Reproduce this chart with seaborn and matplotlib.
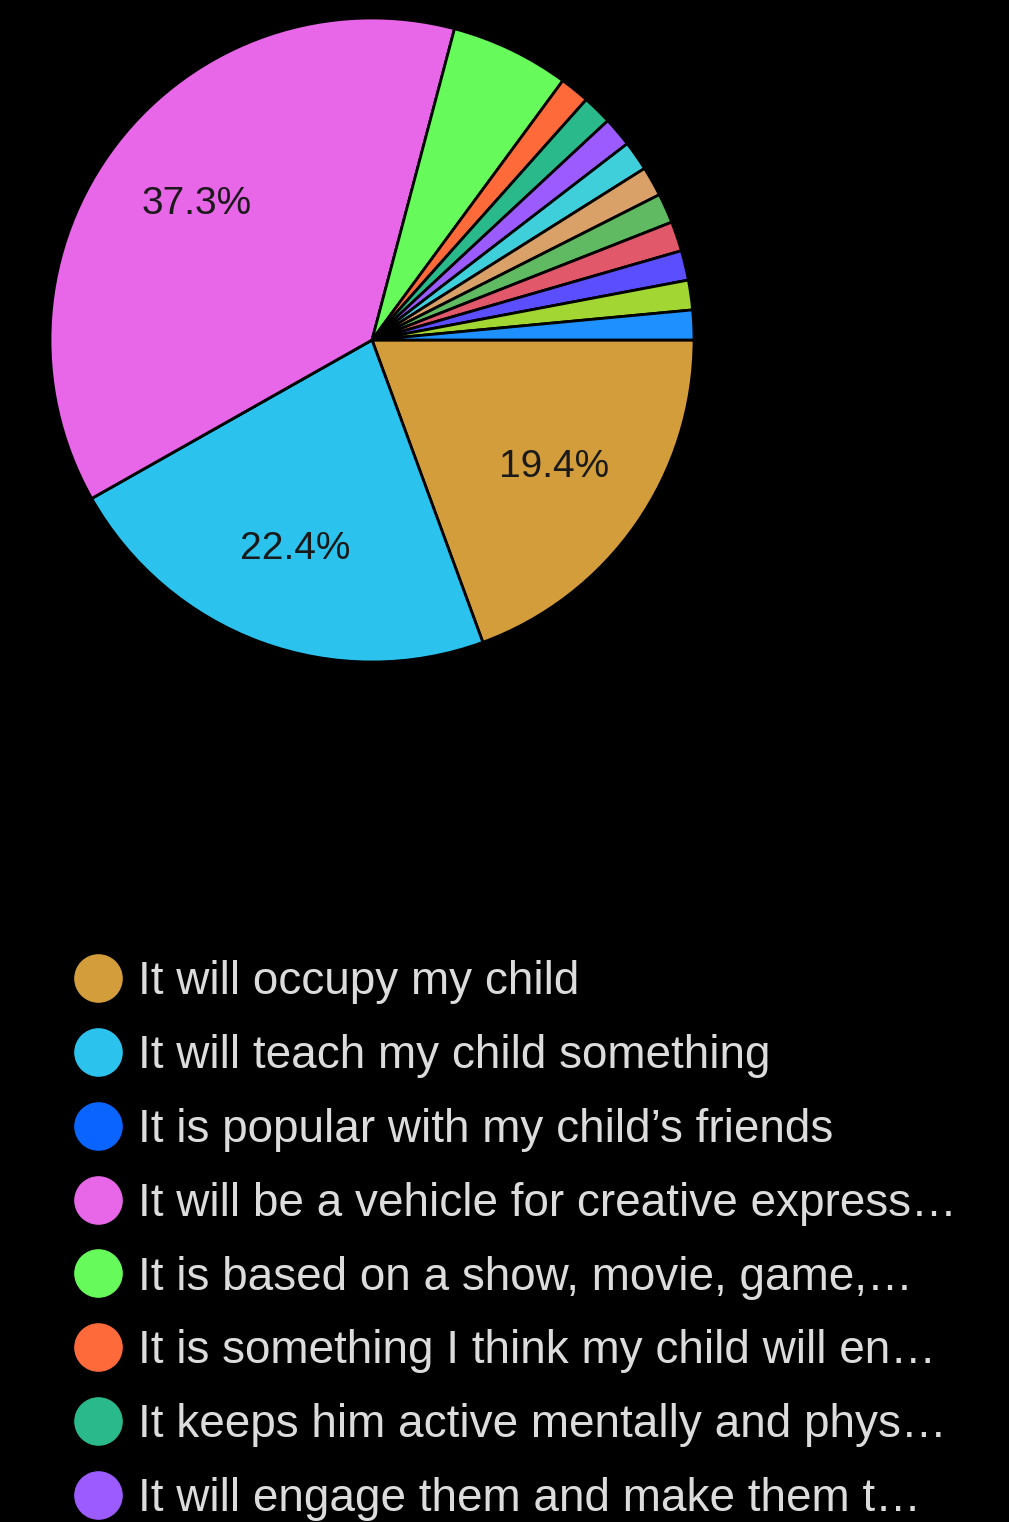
import matplotlib
matplotlib.use("Agg")
import matplotlib.pyplot as plt
from matplotlib.lines import Line2D
import seaborn as sns

# Response shares (percent of respondents) in drawing order, clockwise from 3 o'clock
slice_values = [19.4, 22.4, 0.0, 37.3, 5.97, 1.49, 1.49, 1.49, 1.49, 1.49, 1.49, 1.49, 1.49, 1.49, 1.49]
slice_colors = ["#D29D3A", "#2BC3EE", "#0A64FF", "#E866E8", "#66FA5A", "#FF6A3A",
                "#2AB98A", "#9B5BFF", "#3FCFDA", "#D9A068", "#5FBA62", "#E0586A",
                "#5A4EFF", "#A2D632", "#1E90FF"]

legend_labels = [
    "It will occupy my child",
    "It will teach my child something",
    "It is popular with my child\u2019s friends",
    "It will be a vehicle for creative express\u2026",
    "It is based on a show, movie, game,\u2026",
    "It is something I think my child will en\u2026",
    "It keeps him active mentally and phys\u2026",
    "It will engage them and make them t\u2026",
]

sns.set_theme(style="dark", rc={"figure.facecolor": "black", "axes.facecolor": "black",
                                "savefig.facecolor": "black"})
plt.rcParams["font.family"] = ["Liberation Sans", "DejaVu Sans"]

W, H = 1009, 1522
fig = plt.figure(figsize=(W / 100, H / 100), dpi=100)

# Pie axes: centre (372, 340) px, radius 322 px
cx, cy, r = 372, 340, 322
ax = fig.add_axes([(cx - r) / W, (H - cy - r) / H, 2 * r / W, 2 * r / H])
ax.set_facecolor("black")


def pct_label(p):
    return f"{p:.1f}%" if p > 10 else ""


wedges, texts, autotexts = ax.pie(
    slice_values, colors=slice_colors, startangle=0, counterclock=False,
    autopct=pct_label, pctdistance=0.69, radius=1.0,
    wedgeprops=dict(edgecolor="black", linewidth=2.0),
    textprops=dict(color="#1a1a1a", fontsize=28),
)
ax.set_xlim(-1, 1)
ax.set_ylim(-1, 1)
ax.set_aspect("equal")
ax.axis("off")

# Legend with circular markers
handles = [Line2D([0], [0], marker="o", linestyle="none", markersize=34,
                  markerfacecolor=c, markeredgecolor=c)
           for c in slice_colors[:len(legend_labels)]]
leg = fig.legend(handles, legend_labels, loc="upper left",
                 bbox_to_anchor=(57 / W, 1 - 942 / H), frameon=False,
                 fontsize=33, labelcolor="#dcdcdc", handlelength=1.0,
                 handletextpad=0.36, labelspacing=0.65, borderaxespad=0)

fig.savefig("out.png", dpi=100, facecolor="black")
